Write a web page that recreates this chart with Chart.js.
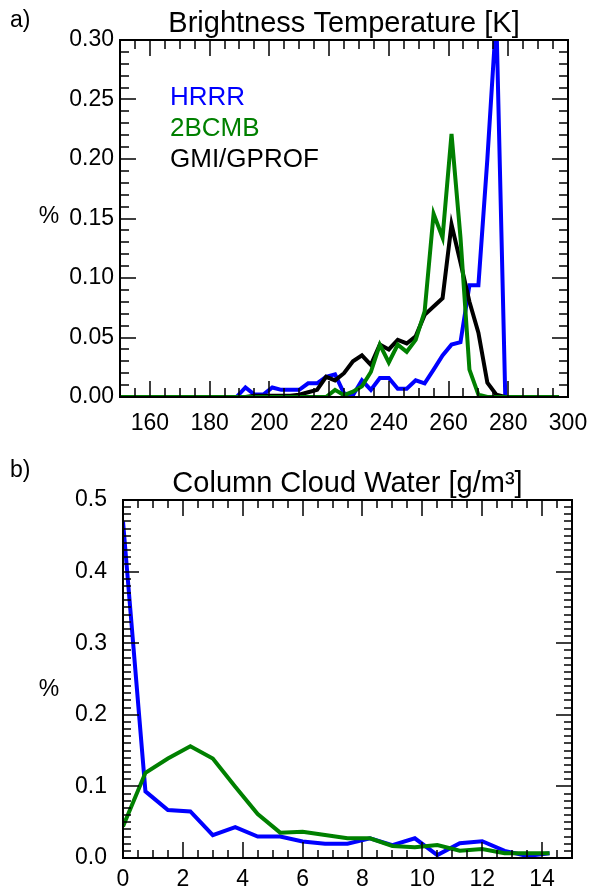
<!DOCTYPE html>
<html>
<head>
<meta charset="utf-8">
<script src="https://cdn.jsdelivr.net/npm/chart.js@4.4.1/dist/chart.umd.min.js"></script>
<style>
  body { margin: 0; background: #fff; }
  #wrap { position: relative; width: 592px; height: 890px; }
  canvas { position: absolute; left: 0; }
</style>
</head>
<body>
<div id="wrap">
  <canvas id="tbChart" width="592" height="440" style="top:0"></canvas>
  <canvas id="cwChart" width="592" height="450" style="top:440px"></canvas>
</div>
<script>
// a) brightness temperature histogram, 3 K bins
const tbBins = [150, 153, 156, 159, 162, 165, 168, 171, 174, 177, 180, 183, 186, 189, 192, 195, 198, 201, 204, 207,
                210, 213, 216, 219, 222, 225, 228, 231, 234, 237, 240, 243, 246, 249, 252, 255, 258, 261, 264, 267,
                270, 273, 276, 279, 282, 285, 288, 291, 294, 297];
const tbHrrr = [0, 0, 0, 0, 0, 0, 0, 0, 0, 0, 0, 0, 0, 0, 0.008, 0.002, 0.002, 0.008, 0.006, 0.006,
                0.006, 0.0115, 0.0115, 0.017, 0.019, 0.003, 0.0015, 0.014, 0.006, 0.016, 0.016, 0.007, 0.007, 0.014, 0.0115, 0.023, 0.035, 0.044, 0.046, 0.094,
                0.094, 0.20, 0.32, 0, 0, 0, 0, 0, 0, 0];
const tb2bcmb = [0, 0, 0, 0, 0, 0, 0, 0, 0, 0, 0, 0, 0, 0, 0, 0, 0, 0, 0, 0,
                 0, 0, 0, 0, 0.006, 0.0015, 0.0045, 0.009, 0.021, 0.044, 0.029, 0.044, 0.038, 0.048, 0.072, 0.154, 0.134, 0.221, 0.134, 0.023,
                 0.002, 0, 0, 0, 0, 0, 0, 0, 0, 0];
const tbGmi = [0, 0, 0, 0, 0, 0, 0, 0, 0, 0, 0, 0, 0, 0, 0, 0.001, 0.001, 0.001, 0.001, 0.001,
               0.002, 0.004, 0.006, 0.017, 0.014, 0.020, 0.030, 0.035, 0.027, 0.044, 0.040, 0.048, 0.045, 0.051, 0.069, 0.076, 0.083, 0.145, 0.113, 0.080,
               0.054, 0.012, 0.002, 0, 0, 0, 0, 0, 0, 0];
const tbXTicks = [160, 180, 200, 220, 240, 260, 280, 300];
const tbYTicks = [0, 0.05, 0.10, 0.15, 0.20, 0.25, 0.30];

// b) column cloud water histogram
const cwBins = [0, 0.75, 1.5, 2.25, 3.0, 3.75, 4.5, 5.25, 6.0, 6.75, 7.5, 8.25, 9.0, 9.75, 10.5, 11.25, 12.0, 12.75, 13.5, 14.25];
const cwHrrr = [0.47, 0.093, 0.067, 0.065, 0.032, 0.043, 0.030, 0.030, 0.023, 0.020, 0.020, 0.0275, 0.018, 0.0275, 0.004, 0.0205, 0.0235, 0.010, 0.003, 0.0066];
const cw2bcmb = [0.044, 0.119, 0.139, 0.156, 0.139, 0.0996, 0.0614, 0.0354, 0.0368, 0.032, 0.0275, 0.0275, 0.0168, 0.015, 0.018, 0.0102, 0.0126, 0.0066, 0.0066, 0.0066];
const cwXTicks = [0, 2, 4, 6, 8, 10, 12, 14];
const cwYTicks = [0, 0.1, 0.2, 0.3, 0.4, 0.5];

const FONT = '"Liberation Sans", Arial, sans-serif';
const BLUE = '#0000ff';
const GREEN = '#008000';

const pts = (xs, ys) => xs.map((x, i) => ({ x: x, y: ys[i] }));

// IDL style frame: box plus inward ticks on all four sides, titles and legend text
const framePlugin = {
  id: 'frame',
  afterDatasetsDraw(chart, args, o) {
    const { ctx, chartArea: a } = chart;
    const xs = chart.scales.x, ys = chart.scales.y;
    const near = (arr, v) => arr.some(t => Math.abs(t - v) < 1e-6);
    ctx.save();
    ctx.strokeStyle = '#000';
    ctx.lineWidth = 1.5;
    ctx.beginPath();
    let n = Math.round((xs.max - xs.min) / o.xMinor);
    for (let i = 0; i <= n; i++) {
      const v = xs.min + i * o.xMinor;
      const px = Math.round(xs.getPixelForValue(v));
      const len = near(o.xMajors, v) ? o.majorLen : o.minorLen;
      ctx.moveTo(px, a.bottom); ctx.lineTo(px, a.bottom - len);
      ctx.moveTo(px, a.top); ctx.lineTo(px, a.top + len);
    }
    n = Math.round((ys.max - ys.min) / o.yMinor);
    for (let i = 0; i <= n; i++) {
      const v = ys.min + i * o.yMinor;
      const py = Math.round(ys.getPixelForValue(v));
      const len = near(o.yMajors, v) ? o.majorLen : o.minorLen;
      ctx.moveTo(a.left, py); ctx.lineTo(a.left + len, py);
      ctx.moveTo(a.right, py); ctx.lineTo(a.right - len, py);
    }
    ctx.stroke();
    ctx.lineWidth = 2;
    ctx.strokeRect(a.left, a.top, a.right - a.left, a.bottom - a.top);

    ctx.fillStyle = '#000';
    ctx.textBaseline = 'alphabetic';
    ctx.textAlign = 'center';
    ctx.font = '29px ' + FONT;
    ctx.fillText(o.title, (a.left + a.right) / 2, a.top - 8);
    ctx.font = '23px ' + FONT;
    ctx.fillText('%', o.pctX, o.pctY);
    ctx.textAlign = 'left';
    ctx.fillText(o.panel, o.panelX, o.panelY);

    if (o.legend) {
      ctx.font = '26px ' + FONT;
      chart.data.datasets.forEach((d, i) => {
        ctx.fillStyle = d.borderColor;
        ctx.fillText(d.label, a.left + 50, a.top + 65 + i * 31);
      });
    }
    ctx.restore();
  }
};

function makeChart(id, cfg) {
  const tickFont = { family: FONT, size: 23 };
  return new Chart(document.getElementById(id), {
    type: 'line',
    data: { datasets: cfg.datasets },
    options: {
      responsive: false,
      animation: false,
      devicePixelRatio: 1,
      layout: { autoPadding: false, padding: { top: cfg.top, right: cfg.right, left: 0, bottom: 0 } },
      elements: { point: { radius: 0 }, line: { tension: 0, borderWidth: 4 } },
      plugins: {
        legend: { display: false },
        tooltip: { enabled: false },
        frame: cfg.frame
      },
      scales: {
        x: {
          type: 'linear', min: cfg.xMin, max: cfg.xMax,
          grid: { display: false, drawTicks: false }, border: { display: false },
          afterBuildTicks: s => { s.ticks = cfg.xTicks.map(v => ({ value: v })); },
          afterFit: s => { s.height = cfg.xHeight; s.paddingLeft = 0; s.paddingRight = 0; },
          ticks: { font: tickFont, color: '#000', padding: cfg.xPad, maxRotation: 0, autoSkip: false,
                   callback: v => String(v) }
        },
        y: {
          type: 'linear', min: cfg.yMin, max: cfg.yMax,
          grid: { display: false, drawTicks: false }, border: { display: false },
          afterBuildTicks: s => { s.ticks = cfg.yTicks.map(v => ({ value: v })); },
          afterFit: s => { s.width = cfg.yWidth; s.paddingTop = 0; s.paddingBottom = 0; },
          ticks: { font: tickFont, color: '#000', padding: cfg.yPad, autoSkip: false,
                   callback: v => v.toFixed(cfg.yDigits) }
        }
      }
    },
    plugins: [framePlugin]
  });
}

makeChart('tbChart', {
  datasets: [
    { label: 'HRRR', data: pts(tbBins, tbHrrr), borderColor: BLUE, order: 2, clip: 0 },
    { label: '2BCMB', data: pts(tbBins, tb2bcmb), borderColor: GREEN, order: 0, clip: 0 },
    { label: 'GMI/GPROF', data: pts(tbBins, tbGmi), borderColor: '#000', order: 1, clip: 0 }
  ],
  top: 40, right: 24, xHeight: 43, yWidth: 120, xPad: 13, yPad: 6,
  xMin: 150, xMax: 300, yMin: 0, yMax: 0.30, yDigits: 2,
  xTicks: tbXTicks, yTicks: tbYTicks,
  frame: { title: 'Brightness Temperature [K]', panel: 'a)', panelX: 10, panelY: 27,
           pctX: 49, pctY: 223, legend: true,
           xMinor: 5, yMinor: 0.01, xMajors: tbXTicks, yMajors: tbYTicks, majorLen: 16, minorLen: 9 }
});

makeChart('cwChart', {
  datasets: [
    { label: 'HRRR', data: pts(cwBins, cwHrrr), borderColor: BLUE, order: 1, clip: 0 },
    { label: '2BCMB', data: pts(cwBins, cw2bcmb), borderColor: GREEN, order: 0, clip: 0 }
  ],
  top: 60, right: 20, xHeight: 32, yWidth: 123, xPad: 8, yPad: 16,
  xMin: 0, xMax: 15, yMin: 0, yMax: 0.5, yDigits: 1,
  xTicks: cwXTicks, yTicks: cwYTicks,
  frame: { title: 'Column Cloud Water [g/m\u00B3]', panel: 'b)', panelX: 10, panelY: 37,
           pctX: 49, pctY: 256, legend: false,
           xMinor: 0.5, yMinor: 0.01, xMajors: cwXTicks, yMajors: cwYTicks, majorLen: 16, minorLen: 8 }
});
</script>
</body>
</html>
